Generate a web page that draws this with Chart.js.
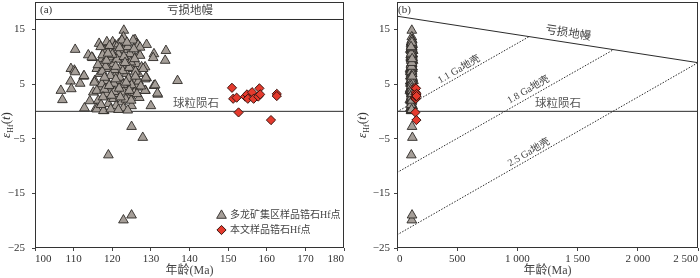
<!DOCTYPE html>
<html><head><meta charset="utf-8">
<script src="https://cdn.jsdelivr.net/npm/chart.js@4/dist/chart.umd.min.js"></script>
<style>
html,body{margin:0;padding:0;background:#fff;}
#wrap{position:relative;width:700px;height:278px;overflow:hidden;}
canvas{position:absolute;top:0;}
</style></head><body>
<div id="wrap">
<canvas id="ca" width="350" height="278" style="left:0"></canvas>
<canvas id="cb" width="350" height="278" style="left:350px"></canvas>
</div>
<script>
// ---- data: [age (Ma), εHf(t)] ----
const duolongZircons = [
[110.4,11.3],[106.7,3.8],[107.1,2.1],[109.3,7.8],[110.2,7.5],[110.4,7.2],[109.2,5.5],[109.4,4.1],[111.7,5.1],[112.6,6.4],
[112.8,0.6],[113.8,10.3],[114.9,9.8],[114.2,1.9],[115.8,0.6],[117.9,0.1],[116.6,12.4],[118.4,11.4],[120.1,12.7],[120.8,12.1],
[123.0,14.8],[122.9,13.6],[125.9,13.1],[126.3,12.4],[128.9,12.2],[125.3,10.5],[127.0,10.4],[130.8,10.5],[130.6,9.8],[133.9,11.1],
[133.7,9.3],[136.9,5.6],[128.9,6.1],[130.8,4.7],[131.8,3.1],[128.6,3.8],[130.0,1.0],[125.0,-2.8],[127.9,-4.8],[119.0,-8.0],
[122.9,-19.9],[125.0,-19.0],
[118.6,12.7],[120.7,11.9],[118.1,11.1],[122.9,11.3],[125.4,13.0],[126.7,12.1],[127.2,10.2],[124.6,10.5],[121.6,10.5],[119.4,9.9],
[117.3,9.6],[114.7,9.9],[123.7,9.3],[126.3,8.7],[117.7,8.7],[120.3,8.7],[122.4,8.4],[116.0,7.8],[119.0,7.8],[125.0,7.8],
[128.5,8.1],[116.8,6.9],[121.1,6.9],[123.7,6.9],[126.7,6.9],[115.5,5.6],[118.6,5.6],[122.0,5.6],[125.4,5.6],[128.5,5.9],
[116.8,4.4],[119.9,4.4],[123.3,4.4],[126.3,4.4],[128.5,3.8],[115.1,3.5],[118.6,3.2],[121.6,3.2],[124.6,2.9],[116.4,2.0],
[119.0,1.4],[122.4,1.7],[125.0,1.0],[116.0,0.4],[117.7,0.1],[122.9,0.6],[112.7,6.5],[115.4,5.3],[127.6,8.1],[128.0,7.8],
[131.1,4.8],[131.7,3.3],[128.7,6.2],[127.2,11.7],
[117.5,10.3],[119.8,11.0],[121.2,9.5],[123.0,10.0],[124.8,9.0],[118.3,8.2],[120.6,7.6],[122.7,7.4],[124.4,8.0],[126.0,7.3],
[117.4,7.3],[119.5,6.5],[121.9,6.2],[124.2,6.0],[126.8,5.5],[117.3,5.0],[120.4,5.1],[122.8,4.9],[125.0,4.8],[127.4,4.6],
[116.0,3.8],[118.0,4.0],[120.5,3.6],[123.0,3.5],[125.7,3.4],[127.0,2.5],[117.6,2.6],[120.3,2.3],[123.5,2.2],[121.0,1.0],
[119.6,0.4],[124.0,0.2],[118.5,9.3],[116.3,8.5],[124.0,11.8],[121.6,12.3],[122.5,13.0],[120.0,10.4],[125.6,11.4],[119.3,12.0],
[118.9,10.6],[121.9,11.6],[123.8,12.6],[117.0,11.8],[120.9,8.2],[123.3,8.9],[125.8,9.6],[118.0,6.2],[120.9,5.9],[123.6,5.3],
[126.0,6.4],[119.2,4.7],[121.8,4.2],[124.4,3.8],[117.1,1.2],[119.8,2.9],[122.1,2.6],[124.9,2.0],[126.4,3.2],[121.6,0.3]
];
const thisStudyZircons = [
[151.0,4.3],[151.3,2.3],[152.2,2.5],[154.4,2.7],[154.9,3.1],[155.1,2.3],[156.2,3.5],[156.6,2.3],[157.8,2.7],[158.1,4.2],
[158.3,3.1],[162.6,3.2],[162.6,2.8],[152.7,-0.2],[161.1,-1.6]
];
const yTicks = [15, 5, -5, -15, -25];
const xTicksA = [100, 110, 120, 130, 140, 150, 160, 170, 180];
const xTicksB = [0, 500, 1000, 1500, 2000, 2500];
// reference lines
const depletedMantleA = [[100,16.8],[180,16.8]];
const chondriteA = [[100,0],[180,0]];
const depletedMantleB = [[0,17.4],[2500,8.9]];
const chondriteB = [[0,0],[2500,0]];
const crust11 = [[0,-0.1],[1100,13.7]];
const crust18 = [[0,-11.2],[1800,11.3]];
const crust25 = [[0,-22.6],[2500,8.9]];

const SERIF = "'Liberation Serif','Times New Roman',serif";
const CJK = "'Liberation Serif','Noto Sans CJK SC',serif";
const TRI_FILL = '#a59e98', TRI_EDGE = '#2e2a27';
const DIA_FILL = '#e53a2d', DIA_EDGE = '#3a1510';

const toXY = arr => arr.map(p => ({x:p[0], y:p[1]}));

function pointSets() {
  return [
    {label:'本文样品锆石Hf点', data: toXY(thisStudyZircons), pointStyle:'rectRot', pointRadius:4.6,
     backgroundColor:DIA_FILL, borderColor:DIA_EDGE, borderWidth:1, order:1},
    {label:'多龙矿集区样品锆石Hf点', data: toXY(duolongZircons), pointStyle:'triangle', pointRadius:5.6,
     backgroundColor:TRI_FILL, borderColor:TRI_EDGE, borderWidth:0.9, order:2}
  ];
}
function lineSet(arr, dash, w) {
  return {data: toXY(arr), showLine:true, pointRadius:0, borderColor:'#2b2b2b', borderWidth:w||1,
          borderDash: dash||[], order:5, fill:false};
}
function fmtY(v){ return v < 0 ? '\u2212' + Math.abs(v) : String(v); }
function fmtXB(v){ return v >= 1000 ? Math.floor(v/1000) + ' ' + String(v%1000).padStart(3,'0') : String(v); }
function noPad(s){ s.paddingTop = 0; s.paddingBottom = 0; s.paddingLeft = 0; s.paddingRight = 0; }

function scales(xMin, xMax, xTicks, xFmt, yWidth, yPad) {
  return {
    x: {type:'linear', min:xMin, max:xMax,
        afterBuildTicks: s => { s.ticks = xTicks.map(v => ({value:v})); },
        afterFit: s => { s.height = 30; noPad(s); },
        ticks:{font:{family:SERIF, size:11}, color:'#333', padding:2, maxRotation:0, autoSkip:false, align:'inner', callback:xFmt},
        grid:{drawOnChartArea:false, drawTicks:true, tickLength:3, color:'#444'},
        border:{display:false}},
    y: {type:'linear', min:-25, max:20,
        afterBuildTicks: s => { s.ticks = yTicks.map(v => ({value:v})); },
        afterFit: s => { s.width = yWidth; noPad(s); },
        ticks:{font:{family:SERIF, size:11}, color:'#333', padding:yPad, callback:fmtY},
        grid:{drawOnChartArea:false, drawTicks:true, tickLength:3, color:'#444'},
        border:{display:false}}
  };
}

function drawYTitle(ctx, cx, cy) {
  ctx.save();
  ctx.translate(cx, cy); ctx.rotate(-Math.PI/2);
  ctx.fillStyle = '#333'; ctx.textBaseline = 'alphabetic'; ctx.textAlign = 'left';
  const parts = [
    {t:'ε', f:'italic 13px '+SERIF, dy:0},
    {t:'Hf', f:'8px '+SERIF, dy:2.5},
    {t:'(', f:'13px '+SERIF, dy:0},
    {t:'t', f:'italic 13px '+SERIF, dy:0},
    {t:')', f:'13px '+SERIF, dy:0}
  ];
  let total = 0;
  parts.forEach(p => { ctx.font = p.f; p.w = ctx.measureText(p.t).width; total += p.w; });
  let x = -total/2;
  parts.forEach(p => { ctx.font = p.f; ctx.fillText(p.t, x, 4 + p.dy); x += p.w; });
  ctx.restore();
}
function drawBox(ctx, a) {
  ctx.save(); ctx.strokeStyle = '#333'; ctx.lineWidth = 1;
  ctx.strokeRect(Math.round(a.left)+0.5, Math.round(a.top)+0.5, Math.round(a.right-a.left)-1, Math.round(a.bottom-a.top)-1);
  ctx.restore();
}
function text(ctx, s, x, y, font, color, align) {
  ctx.save(); ctx.font = font; ctx.fillStyle = color || '#444';
  ctx.textAlign = align || 'center'; ctx.textBaseline = 'middle';
  ctx.fillText(s, x, y); ctx.restore();
}
function lineLabel(chart, s, line, ageAt, offset) {
  const ctx = chart.ctx, xs = chart.scales.x, ys = chart.scales.y;
  const x0 = xs.getPixelForValue(line[0][0]), y0 = ys.getPixelForValue(line[0][1]);
  const x1 = xs.getPixelForValue(line[1][0]), y1 = ys.getPixelForValue(line[1][1]);
  const ang = Math.atan2(y1-y0, x1-x0);
  const t = (ageAt - line[0][0]) / (line[1][0] - line[0][0]);
  ctx.save();
  ctx.translate(x0 + t*(x1-x0), y0 + t*(y1-y0)); ctx.rotate(ang);
  ctx.font = (s.length === 4 ? '11.5px ' : '10px ') + CJK; ctx.fillStyle = '#444'; ctx.textAlign = 'center'; ctx.textBaseline = 'middle';
  ctx.fillText(s, 0, -offset);
  ctx.restore();
}
function tri(ctx, x, y, r) {
  ctx.beginPath();
  ctx.moveTo(x, y - r); ctx.lineTo(x + r*0.866, y + r/2); ctx.lineTo(x - r*0.866, y + r/2); ctx.closePath();
  ctx.fillStyle = TRI_FILL; ctx.fill(); ctx.strokeStyle = TRI_EDGE; ctx.lineWidth = 0.9; ctx.stroke();
}
function dia(ctx, x, y, r) {
  ctx.beginPath();
  ctx.moveTo(x, y - r); ctx.lineTo(x + r, y); ctx.lineTo(x, y + r); ctx.lineTo(x - r, y); ctx.closePath();
  ctx.fillStyle = DIA_FILL; ctx.fill(); ctx.strokeStyle = DIA_EDGE; ctx.lineWidth = 1; ctx.stroke();
}

const common = {responsive:false, animation:false, devicePixelRatio:1,
  plugins:{legend:{display:false}, tooltip:{enabled:false}}};

new Chart(document.getElementById('ca'), {
  type:'scatter',
  data:{datasets:[...pointSets(), lineSet(depletedMantleA), lineSet(chondriteA)]},
  options:{...common, layout:{autoPadding:false, padding:{top:2, right:6, left:0, bottom:0}},
    scales: scales(100, 180, xTicksA, v => String(v), 35, 7)},
  plugins:[{id:'deco', afterDraw(chart){
    const ctx = chart.ctx, a = chart.chartArea;
    drawBox(ctx, a);
    text(ctx, '(a)', 40, 10, '11px ' + SERIF, '#333', 'left');
    text(ctx, '亏损地幔', 190, 11, '11.5px ' + CJK, '#444');
    text(ctx, '球粒陨石', 196, 104, '11.5px ' + CJK, '#555');
    drawYTitle(ctx, 6, 125);
    text(ctx, '年龄(Ma)', (a.left + a.right)/2, 271, '12px ' + CJK, '#444');
    tri(ctx, 221.5, 215.5, 5.6);
    text(ctx, chart.data.datasets[1].label, 230, 215, '10px ' + CJK, '#444', 'left');
    dia(ctx, 221.5, 230, 4.6);
    text(ctx, chart.data.datasets[0].label, 230, 230, '10px ' + CJK, '#444', 'left');
  }}]
});

new Chart(document.getElementById('cb'), {
  type:'scatter',
  data:{datasets:[...pointSets(), lineSet(depletedMantleB), lineSet(chondriteB),
    lineSet(crust11, [1.5,1.5]), lineSet(crust18, [1.5,1.5]), lineSet(crust25, [1.5,1.5])]},
  options:{...common, layout:{autoPadding:false, padding:{top:2, right:2, left:0, bottom:0}},
    scales: scales(0, 2500, xTicksB, fmtXB, 47, 4)},
  plugins:[{id:'deco', afterDraw(chart){
    const ctx = chart.ctx, a = chart.chartArea;
    drawBox(ctx, a);
    text(ctx, '(b)', 48, 10, '11px ' + SERIF, '#333', 'left');
    lineLabel(chart, '亏损地幔', depletedMantleB, 1410, 9);
    text(ctx, '球粒陨石', 208, 104, '11.5px ' + CJK, '#555');
    lineLabel(chart, '1.1 Ga地壳', crust11, 540, 6);
    lineLabel(chart, '1.8 Ga地壳', crust18, 1120, 7);
    lineLabel(chart, '2.5 Ga地壳', crust25, 1120, 6);
    drawYTitle(ctx, 12, 125);
    text(ctx, '年龄(Ma)', (a.left + a.right)/2, 271, '12px ' + CJK, '#444');
  }}]
});
</script>
</body></html>
